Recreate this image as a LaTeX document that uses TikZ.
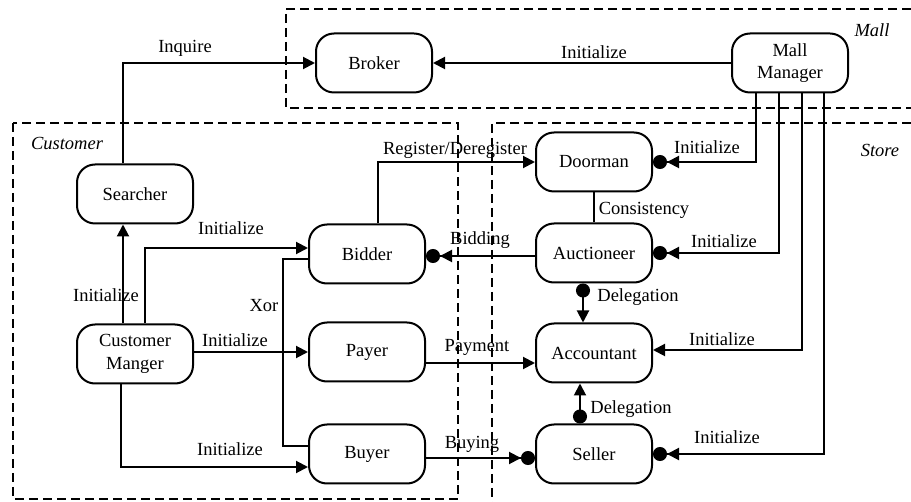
\documentclass[tikz,border=0pt]{standalone}
\usepackage{fontspec}
\setmainfont{Liberation Serif}
\usetikzlibrary{arrows.meta}
\begin{document}
\begin{tikzpicture}[x=1pt,y=-1pt,
  font=\fontsize{18.5}{22.5}\selectfont,
  agent/.style={draw, line width=2pt, rectangle, rounded corners=18pt,
    minimum width=116pt, minimum height=59pt, inner sep=0pt, align=center},
  link/.style={line width=2pt},
  tri/.style={-{Triangle[length=12pt,width=12pt]}},
  dottri/.style={-{Triangle[length=12pt,width=12pt] Circle[length=14pt]}},
  deleg/.style={{Circle[length=14pt]}-{Triangle[length=12pt,width=12pt]}},
  frame/.style={line width=2pt, dash pattern=on 9pt off 5pt},
  lbl/.style={inner sep=0pt, text height=12.5pt, text depth=0pt},
  area/.style={lbl, font=\fontsize{18.5}{22.5}\selectfont\itshape}
]
\useasboundingbox (0,0) rectangle (911,502);

% organisational boundaries
\draw[frame] (911,9) -- (286,9) -- (286,108) -- (911,108);
\draw[frame] (13,123) rectangle (458,499);
\draw[frame] (911,123) -- (492,123) -- (492,502);
\node[area] (lmall) at (872,30) {Mall};
\node[area] (lstore) at (880,150) {Store};
\node[area] (lcust) at (67,143) {Customer};

% agents
\node[agent] (broker)   at (374,63)  {Broker};
\node[agent] (mall)     at (790,63)  {Mall\\Manager};
\node[agent] (searcher) at (135,194) {Searcher};
\node[agent] (doorman)  at (594,162) {Doorman};
\node[agent] (bidder)   at (367,254) {Bidder};
\node[agent] (auct)     at (594,253) {Auctioneer};
\node[agent] (cm)       at (135,354) {Customer\\Manger};
\node[agent] (payer)    at (367,352) {Payer};
\node[agent] (acc)      at (594,353) {Accountant};
\node[agent] (buyer)    at (367,454) {Buyer};
\node[agent] (seller)   at (594,454) {Seller};

% customer side
\draw[link,tri] (searcher.north -| 123,0) |- (broker.west);
\draw[link,tri] (cm.north -| 123,0) -- (searcher.south -| 123,0);
\draw[link,tri] (cm.north -| 145,0) |- (bidder.west |- 0,248);
\draw[link] (bidder.west |- 0,259) -- (283,259) -- (283,446) -- (buyer.west |- 0,446);
\draw[link,tri] (cm.east |- payer.west) -- (payer.west);
\draw[link,tri] (cm.south -| 121,0) |- (buyer.west |- 0,467);
\draw[link,tri] (bidder.north -| 378,0) |- (doorman.west);

% store side
\draw[link,dottri] (auct.west |- 0,256) -- (bidder.east |- 0,256);
\draw[link] (doorman.south) -- (auct.north);
\draw[link,deleg] (auct.south -| 583,0) -- (acc.north -| 583,0);
\draw[link,deleg] (seller.north -| 580,0) -- (acc.south -| 580,0);
\draw[link,tri] (payer.east |- 0,363) -- (acc.west |- 0,363);
\draw[link,dottri] (buyer.east |- 0,458) -- (seller.west |- 0,458);

% mall manager
\draw[link,tri] (mall.west) -- (broker.east);
\draw[link,dottri] (mall.south -| 756,0) |- (doorman.east);
\draw[link,dottri] (mall.south -| 779,0) |- (auct.east);
\draw[link,tri] (mall.south -| 802,0) |- (acc.east |- 0,350);
\draw[link,dottri] (mall.south -| 824,0) |- (seller.east);

% connector labels
\node[lbl] (tInq)  at (185,46)  {Inquire};
\node[lbl] (tIbr)  at (594,52)  {Initialize};
\node[lbl] (tIdo)  at (707,147) {Initialize};
\node[lbl] (tIau)  at (724,241) {Initialize};
\node[lbl] (tIac)  at (722,339) {Initialize};
\node[lbl] (tIse)  at (727,437) {Initialize};
\node[lbl] (tIsr)  at (106,295) {Initialize};
\node[lbl] (tIbi)  at (231,228) {Initialize};
\node[lbl] (tIpa)  at (235,340) {Initialize};
\node[lbl] (tIbu)  at (230,449) {Initialize};
\node[lbl] (tXor)  at (264,305) {Xor};
\node[lbl] (tReg)  at (455,148) {Register/Deregister};
\node[lbl] (tBid)  at (480,238) {Bidding};
\node[lbl] (tCon)  at (644,208) {Consistency};
\node[lbl] (tDe1)  at (638,295) {Delegation};
\node[lbl] (tDe2)  at (631,407) {Delegation};
\node[lbl] (tPay)  at (477,345) {Payment};
\node[lbl] (tBuy)  at (472,442) {Buying};
\end{tikzpicture}
\end{document}
